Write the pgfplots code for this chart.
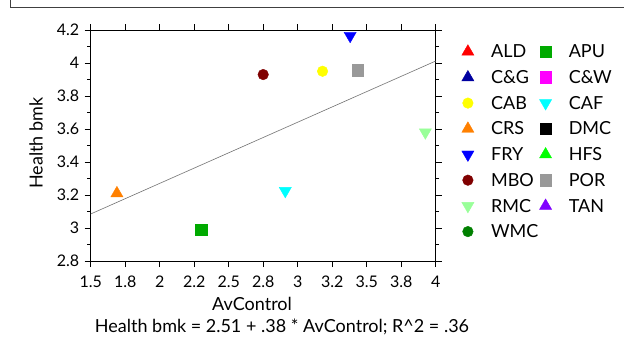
\documentclass[border=0pt]{standalone}
\usepackage{pgfplots}
\pgfplotsset{compat=1.18}
\usepackage{fontspec}
\setmainfont{Lato}
\definecolor{cALD}{RGB}{255,0,0}
\definecolor{cAPU}{RGB}{0,170,0}
\definecolor{cCG}{RGB}{0,0,160}
\definecolor{cCW}{RGB}{255,0,255}
\definecolor{cCAB}{RGB}{255,255,0}
\definecolor{cCAF}{RGB}{0,255,255}
\definecolor{cCRS}{RGB}{255,128,0}
\definecolor{cDMC}{RGB}{0,0,0}
\definecolor{cFRY}{RGB}{0,0,255}
\definecolor{cHFS}{RGB}{0,255,0}
\definecolor{cMBO}{RGB}{128,0,0}
\definecolor{cPOR}{RGB}{153,153,153}
\definecolor{cRMC}{RGB}{153,255,153}
\definecolor{cTAN}{RGB}{128,0,255}
\definecolor{cWMC}{RGB}{0,128,0}
\begin{document}
\begin{tikzpicture}[x=1pt,y=1pt]
\path[use as bounding box] (0,0) rectangle (624,349);
\clip (0,0) rectangle (624,349);
\fill[white] (0,0) rectangle (624,349);
\draw[black!75, line width=1.1pt] (10.7,349) -- (10.7,341.7) -- (624,341.7);
\begin{axis}[
  at={(90.7pt,88pt)}, anchor=south west,
  scale only axis, width=345pt, height=231pt,
  xmin=1.5, xmax=4, ymin=2.8, ymax=4.2,
  xtick={1.5,1.75,2,2.25,2.5,2.75,3,3.25,3.5,3.75,4},
  xticklabels={1.5,1.8,2,2.2,2.5,2.8,3,3.2,3.5,3.8,4},
  ytick={2.8,3,3.2,3.4,3.6,3.8,4,4.2},
  yticklabels={2.8,3,3.2,3.4,3.6,3.8,4,4.2},
  minor y tick num=1,
  tick align=outside,
  major tick length=6pt, minor tick length=3.5pt,
  axis line style={line width=1pt},
  every tick/.style={black, line width=1pt},
  ticklabel style={font=\fontsize{16}{19}\selectfont},
  xticklabel style={yshift=-5pt},
  yticklabel style={xshift=-2pt},
  clip=false,
  legend columns=2,
  legend cell align=left,
  legend style={draw=none, fill=none, at={(1.0739,0.9617)}, anchor=north west,
    inner sep=0pt, outer sep=0pt, row sep=0pt, column sep=0pt,
    nodes={inner sep=0pt, text height=19pt, text depth=6.7pt, font=\fontsize{18}{21}\selectfont}},
  legend image code/.code={\path (-6.5pt,0pt) (23pt,0pt); \draw[#1] plot coordinates {(0pt,0pt)};},
]
\addplot[color=black!55, line width=0.6pt, forget plot] coordinates {(1.5,3.085) (4,4.012)};
% ALD
\addlegendimage{only marks, mark=triangle*, mark size=7, color=cALD}
\addlegendentry{\makebox[47.8pt][l]{ALD}}
% APU
\addplot[only marks, mark=square*, mark size=5.8, color=cAPU] coordinates {(2.30,2.99)};
\addlegendentry{APU}
% C&G
\addlegendimage{only marks, mark=triangle*, mark size=7, color=cCG}
\addlegendentry{\makebox[47.8pt][l]{C\&G}}
% C&W
\addlegendimage{only marks, mark=square*, mark size=5.8, color=cCW}
\addlegendentry{C\&W}
% CAB
\addplot[only marks, mark=*, mark size=5.3, color=cCAB] coordinates {(3.18,3.95)};
\addlegendentry{\makebox[47.8pt][l]{CAB}}
% CAF
\addplot[only marks, mark=triangle*, mark size=7, mark options={rotate=180}, color=cCAF] coordinates {(2.91,3.225)};
\addlegendentry{CAF}
% CRS
\addplot[only marks, mark=triangle*, mark size=7, color=cCRS] coordinates {(1.69,3.21)};
\addlegendentry{\makebox[47.8pt][l]{CRS}}
% DMC
\addlegendimage{only marks, mark=square*, mark size=5.8, color=cDMC}
\addlegendentry{DMC}
% FRY
\addplot[only marks, mark=triangle*, mark size=7, mark options={rotate=180}, color=cFRY] coordinates {(3.38,4.165)};
\addlegendentry{\makebox[47.8pt][l]{FRY}}
% HFS
\addlegendimage{only marks, mark=triangle*, mark size=7, color=cHFS}
\addlegendentry{HFS}
% MBO
\addplot[only marks, mark=*, mark size=5.3, color=cMBO] coordinates {(2.75,3.93)};
\addlegendentry{\makebox[47.8pt][l]{MBO}}
% POR
\addplot[only marks, mark=square*, mark size=5.8, color=cPOR] coordinates {(3.435,3.955)};
\addlegendentry{POR}
% RMC
\addplot[only marks, mark=triangle*, mark size=7, mark options={rotate=180}, color=cRMC] coordinates {(3.925,3.58)};
\addlegendentry{\makebox[47.8pt][l]{RMC}}
% TAN
\addlegendimage{only marks, mark=triangle*, mark size=7, color=cTAN}
\addlegendentry{TAN}
% WMC
\addlegendimage{only marks, mark=*, mark size=5.3, color=cWMC}
\addlegendentry{\makebox[47.8pt][l]{WMC}}
\end{axis}
\node[rotate=90, font=\fontsize{18}{21}\selectfont] at (36,206) {Health bmk};
\node[font=\fontsize{18}{21}\selectfont] at (252,45) {AvControl};
\node[font=\fontsize{18}{21}\selectfont] at (282,22.3) {Health bmk = 2.51 + .38 * AvControl; R\textasciicircum 2 = .36};
\end{tikzpicture}
\end{document}
